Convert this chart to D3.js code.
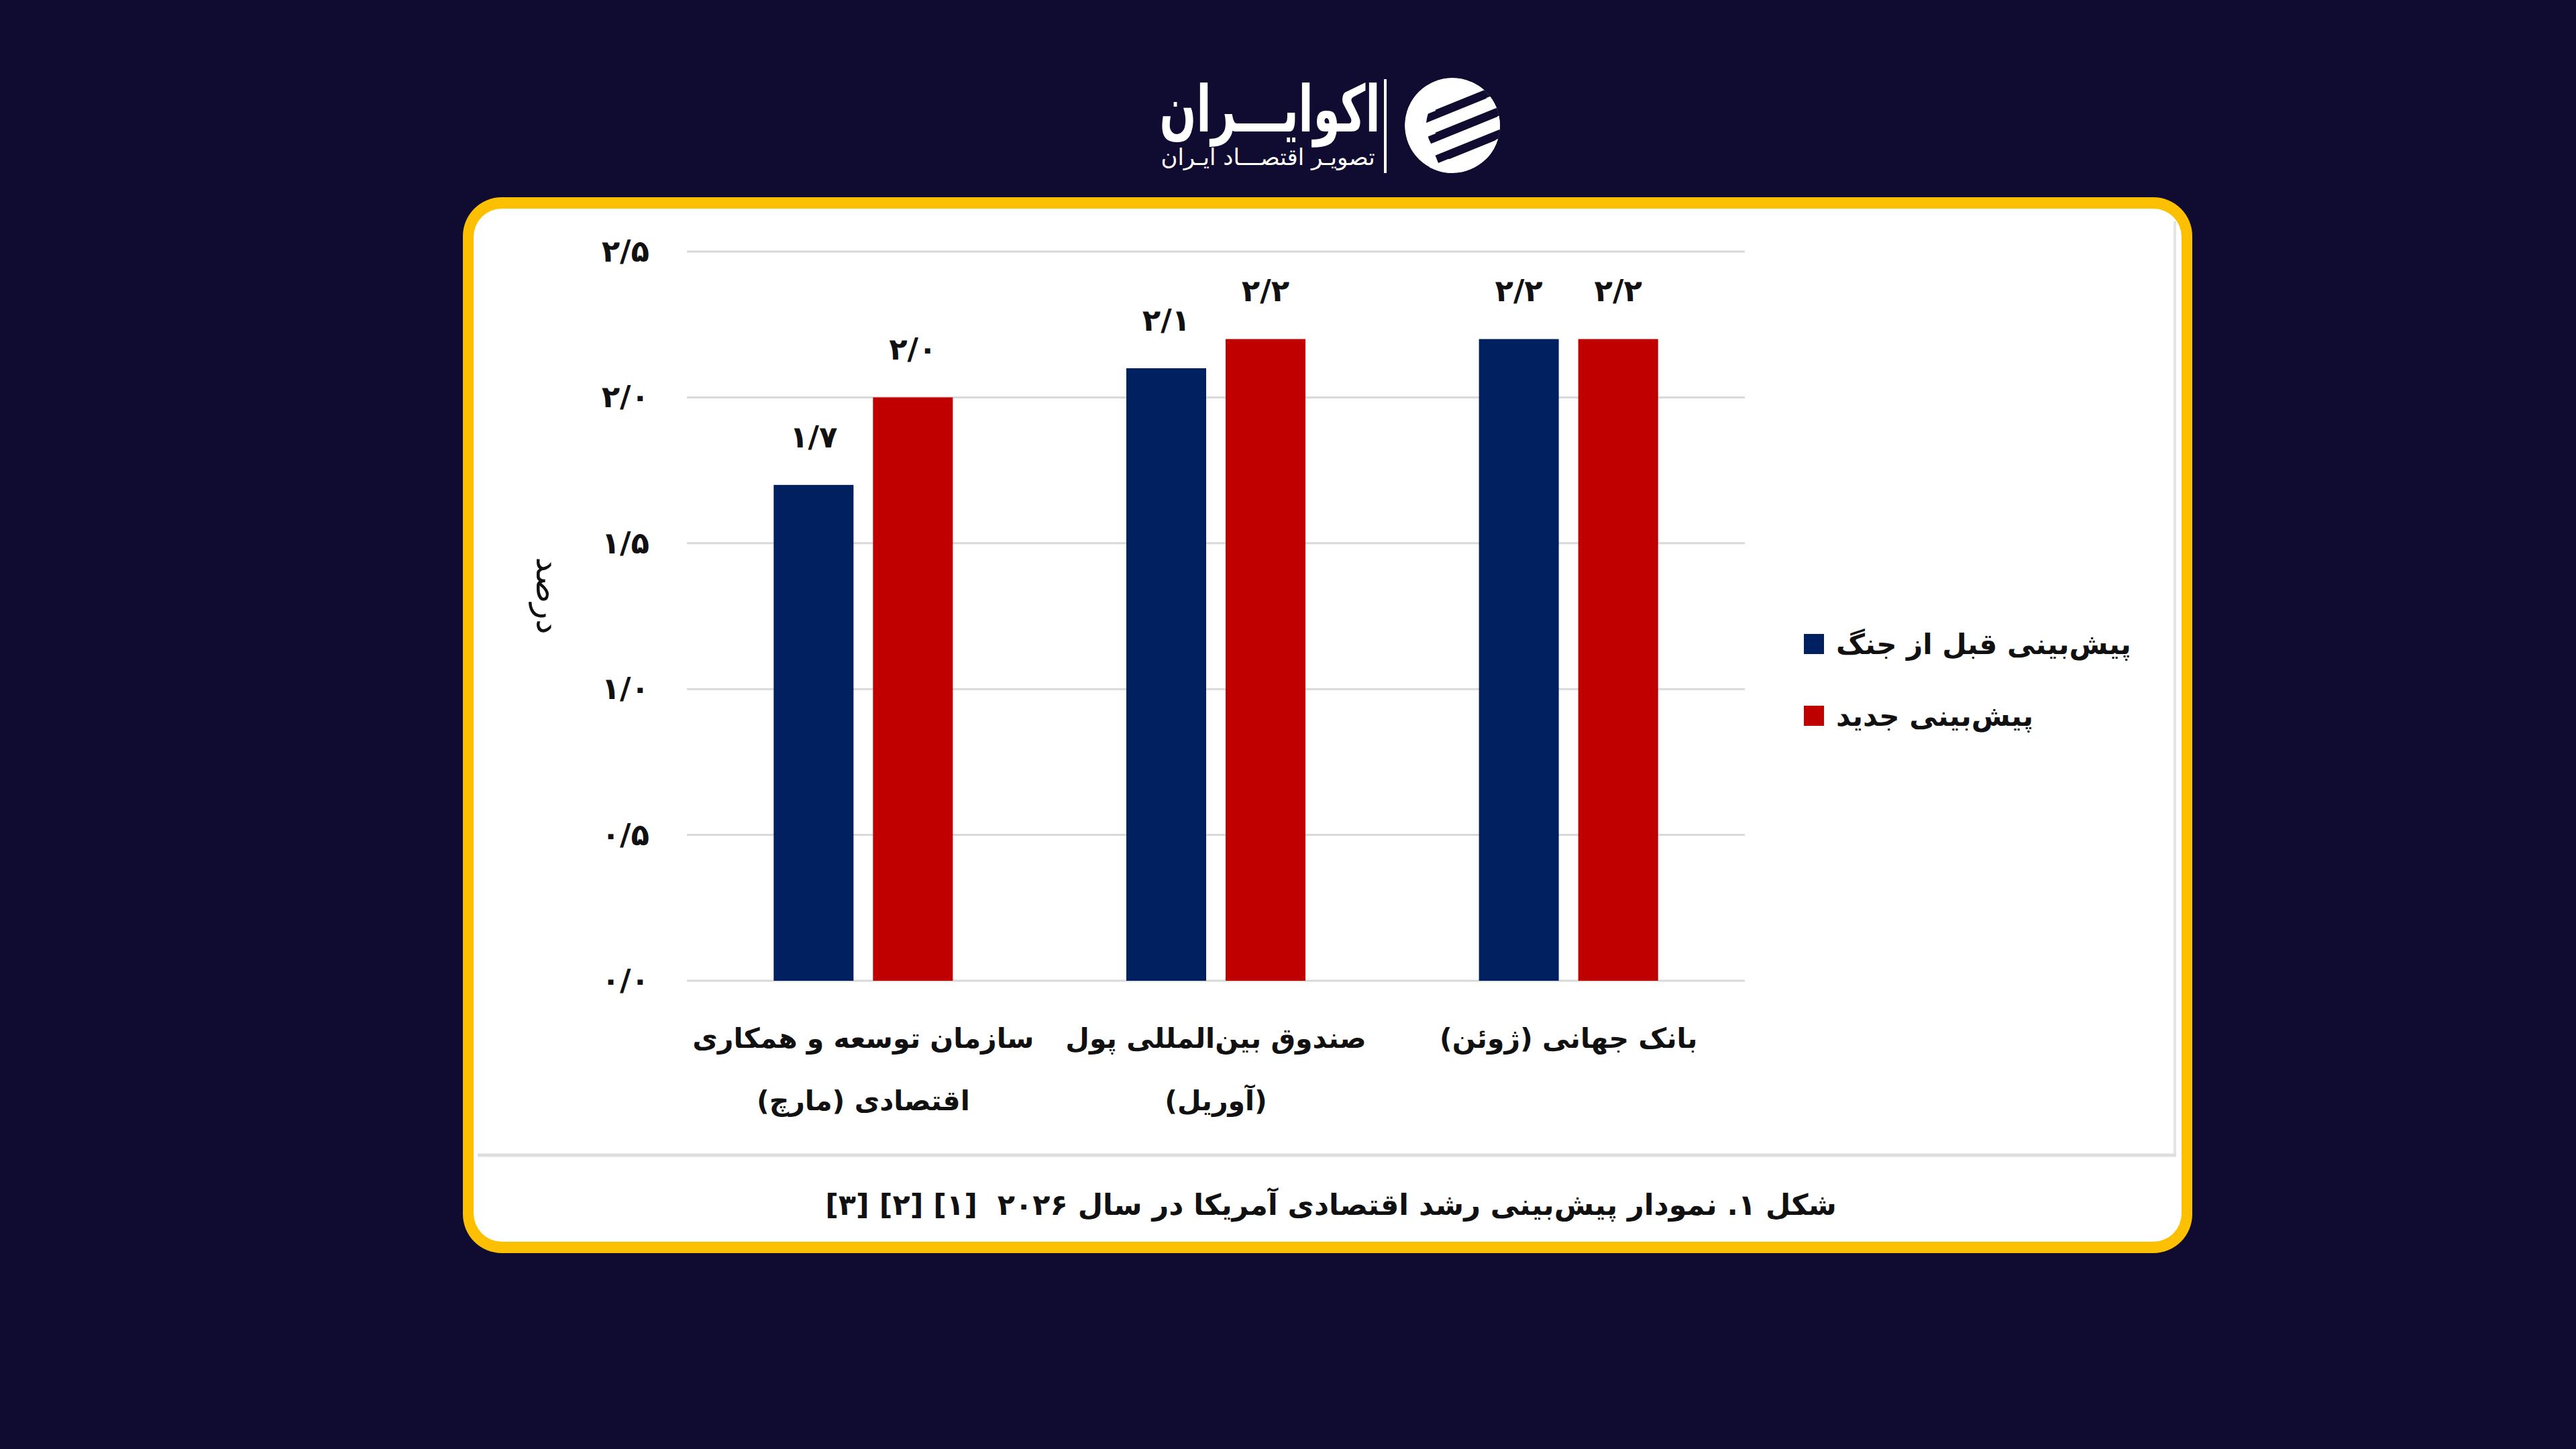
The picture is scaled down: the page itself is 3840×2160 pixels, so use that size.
<!DOCTYPE html>
<html>
<head>
<meta charset="utf-8">
<script src="https://cdn.jsdelivr.net/npm/d3@7"></script>
<style>
  html, body { margin: 0; padding: 0; background: #100c31; }
  svg { display: block; }
  text { font-family: "DejaVu Sans", sans-serif; }
</style>
</head>
<body>
<script>
// ---------- data ----------
const categories = [
  ["سازمان توسعه و همکاری", "اقتصادی (مارچ)"],
  ["صندوق بین‌المللی پول", "(آوریل)"],
  ["بانک جهانی (ژوئن)"]
];
const categoryKeys = ["OECD", "IMF", "WB"];
const seriesNames = ["پیش‌بینی قبل از جنگ", "پیش‌بینی جدید"];
const seriesColors = ["#002060", "#c00000"];
const beforeWar = [1.7, 2.1, 2.2];
const newForecast = [2.0, 2.2, 2.2];
const yTicks = [0, 0.5, 1.0, 1.5, 2.0, 2.5];
const yTitle = "درصد";
const caption = "شکل ۱. نمودار پیش‌بینی رشد اقتصادی آمریکا در سال ۲۰۲۶  [۱] [۲] [۳]";
const logoTitle = "اکوایـــران";
const logoSub = "تصویـر اقتصـــاد ایـران";

const faDigits = "۰۱۲۳۴۵۶۷۸۹";
const fa = v => v.toFixed(1).replace(/\d/g, d => faDigits[+d]).replace(".", "/");

const W = 3840, H = 2160;
const svg = d3.select("body").append("svg").attr("width", W).attr("height", H);
svg.append("rect").attr("width", W).attr("height", H).attr("fill", "#100c31");

// ---------- logo ----------
const logo = svg.append("g");
logo.append("g").attr("transform", "translate(1893,196) scale(0.67,1)")
  .append("text").attr("x", 0).attr("y", 0).attr("text-anchor", "middle")
  .attr("direction", "rtl").attr("font-size", 96).attr("font-weight", "bold")
  .attr("fill", "#ffffff").text(logoTitle);
logo.append("text").attr("x", 1890).attr("y", 246).attr("text-anchor", "middle")
  .attr("direction", "rtl").attr("font-size", 34)
  .attr("fill", "#ffffff").text(logoSub);
logo.append("rect").attr("x", 2063).attr("y", 118).attr("width", 4).attr("height", 140).attr("fill", "#ffffff");
const defs = svg.append("defs");
defs.append("clipPath").attr("id", "iconClip").append("circle").attr("cx", 2165).attr("cy", 187).attr("r", 71);
const icon = logo.append("g").attr("clip-path", "url(#iconClip)");
icon.append("circle").attr("cx", 2165).attr("cy", 187).attr("r", 71).attr("fill", "#ffffff");
icon.append("circle").attr("cx", 2180).attr("cy", 187).attr("r", 54).attr("fill", "#100c31");
[-44, -10, 24, 58].forEach(o => {
  icon.append("rect").attr("x", 2115).attr("y", 187 + o - 9).attr("width", 140).attr("height", 20)
    .attr("fill", "#ffffff").attr("transform", `rotate(-22 2165 ${187 + o})`);
});
[-27, 7, 41].forEach(o => {
  icon.append("rect").attr("x", 2140).attr("y", 187 + o - 6).attr("width", 130).attr("height", 12)
    .attr("fill", "#100c31").attr("transform", `rotate(-22 2165 ${187 + o})`);
});

// ---------- card ----------
svg.append("rect").attr("x", 690).attr("y", 294).attr("width", 2578).attr("height", 1574)
  .attr("rx", 58).attr("fill", "#fcc000");
svg.append("rect").attr("x", 706).attr("y", 311).attr("width", 2546).attr("height", 1540)
  .attr("rx", 42).attr("fill", "#ffffff");
// embedded chart image edge
svg.append("line").attr("x1", 3242).attr("x2", 3242).attr("y1", 330).attr("y2", 1722)
  .attr("stroke", "#e4e4e4").attr("stroke-width", 4);
svg.append("line").attr("x1", 712).attr("x2", 3244).attr("y1", 1722).attr("y2", 1722)
  .attr("stroke", "#dedede").attr("stroke-width", 5);

// ---------- chart ----------
const y = d3.scaleLinear().domain([0, 2.5]).range([1462, 375]);
const x0 = d3.scaleBand().domain(categoryKeys).range([1024, 2601]).paddingInner(0.492).paddingOuter(0.246);
const x1 = d3.scaleBand().domain([0, 1]).range([0, x0.bandwidth()]).paddingInner(0.196);

// gridlines
svg.append("g").selectAll("line").data(yTicks).join("line")
  .attr("x1", 1024).attr("x2", 2601)
  .attr("y1", d => y(d)).attr("y2", d => y(d))
  .attr("stroke", "#d9d9d9").attr("stroke-width", 3);

// y axis labels
const yAxis = svg.append("g").attr("transform", "translate(968,0)")
  .call(d3.axisLeft(y).tickValues(yTicks).tickFormat(fa).tickSize(0).tickPadding(0));
yAxis.select(".domain").remove();
yAxis.selectAll("text").attr("font-size", 45).attr("font-weight", "bold").attr("fill", "#111111")
  .attr("font-family", "DejaVu Sans").attr("dy", "0.32em");

// y title
svg.append("text").attr("transform", "translate(800,888) rotate(90)")
  .attr("text-anchor", "middle").attr("direction", "rtl").attr("font-size", 50)
  .attr("fill", "#111111").text(yTitle);

// bars
const rows = categoryKeys.map((k, i) => ({ key: k, vals: [beforeWar[i], newForecast[i]] }));
const groups = svg.append("g").selectAll("g").data(rows).join("g")
  .attr("transform", d => `translate(${x0(d.key)},0)`);
groups.selectAll("rect").data(d => d.vals.map((v, s) => ({ v, s }))).join("rect")
  .attr("x", d => x1(d.s)).attr("width", x1.bandwidth())
  .attr("y", d => y(d.v)).attr("height", d => y(0) - y(d.v))
  .attr("fill", d => seriesColors[d.s]);
groups.selectAll("text").data(d => d.vals.map((v, s) => ({ v, s }))).join("text")
  .attr("x", d => x1(d.s) + x1.bandwidth() / 2).attr("y", d => y(d.v) - 56)
  .attr("text-anchor", "middle").attr("font-size", 45).attr("font-weight", "bold")
  .attr("fill", "#111111").text(d => fa(d.v));

// category labels
const cat = svg.append("g").selectAll("text").data(categoryKeys).join("text")
  .attr("x", k => x0(k) + x0.bandwidth() / 2).attr("y", 1562)
  .attr("text-anchor", "middle").attr("direction", "rtl")
  .attr("font-size", 41).attr("font-weight", "bold").attr("fill", "#111111");
cat.each(function (k, i) {
  const t = d3.select(this);
  categories[i].forEach((line, j) => {
    t.append("tspan").attr("x", x0(k) + x0.bandwidth() / 2).attr("y", 1562 + j * 93).text(line);
  });
});

// legend
const leg = svg.append("g").selectAll("g").data(seriesNames).join("g")
  .attr("transform", (d, i) => `translate(2689,${945 + i * 107})`);
leg.append("rect").attr("width", 30).attr("height", 30).attr("fill", (d, i) => seriesColors[i]);
leg.append("text").attr("x", 48).attr("y", 15).attr("dy", "0.35em")
  .attr("direction", "rtl").attr("text-anchor", "end")
  .attr("font-size", 42).attr("font-weight", "bold").attr("fill", "#111111").text(d => d);

// caption
svg.append("text").attr("x", 1984).attr("y", 1811).attr("text-anchor", "middle")
  .attr("direction", "rtl").attr("font-size", 43).attr("font-weight", "bold")
  .style("white-space", "pre")
  .attr("fill", "#111111").text(caption);
</script>
</body>
</html>
